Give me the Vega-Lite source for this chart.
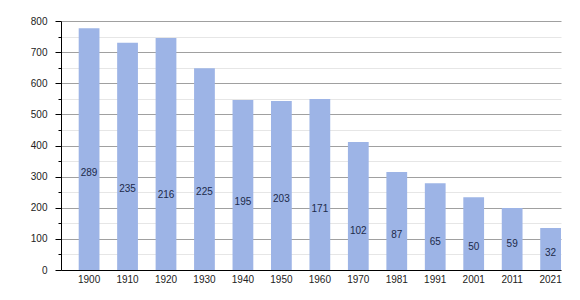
{
  "$schema": "https://vega.github.io/schema/vega-lite/v6.json",
  "width": 500,
  "height": 249,
  "autosize": "none",
  "padding": {"left": 61, "top": 21, "right": 19, "bottom": 30},
  "background": "white",
  "config": {"view": {"stroke": null}, "font": "Liberation Sans"},
  "data": {
    "values": [
      {"year": "1900", "population": 777, "label": 289},
      {"year": "1910", "population": 730, "label": 235},
      {"year": "1920", "population": 745, "label": 216},
      {"year": "1930", "population": 648, "label": 225},
      {"year": "1940", "population": 546, "label": 195},
      {"year": "1950", "population": 543, "label": 203},
      {"year": "1960", "population": 549, "label": 171},
      {"year": "1970", "population": 411, "label": 102},
      {"year": "1981", "population": 315, "label": 87},
      {"year": "1991", "population": 279, "label": 65},
      {"year": "2001", "population": 234, "label": 50},
      {"year": "2011", "population": 199, "label": 59},
      {"year": "2021", "population": 135, "label": 32}
    ]
  },
  "encoding": {
    "x": {
      "field": "year",
      "type": "ordinal",
      "sort": null,
      "scale": {"paddingInner": 0.46, "paddingOuter": 0.23, "align": 1},
      "axis": {
        "title": null,
        "labelAngle": 0,
        "ticks": false,
        "domainColor": "#000000",
        "labelColor": "#222222",
        "labelFontSize": 10,
        "labelPadding": 4
      }
    }
  },
  "layer": [
    {
      "mark": {"type": "bar", "color": "#9db4e6"},
      "encoding": {
        "y": {
          "field": "population",
          "type": "quantitative",
          "scale": {"domain": [0, 800], "nice": false},
          "axis": {
            "title": null,
            "values": [0, 50, 100, 150, 200, 250, 300, 350, 400, 450, 500, 550, 600, 650, 700, 750, 800],
            "labelOverlap": false,
            "labelExpr": "datum.value % 100 === 0 ? datum.label : ''",
            "gridColor": {"condition": {"test": "datum.value % 100 === 0", "value": "#a0a0a0"}, "value": "#e6e6e6"},
            "tickSize": {"condition": {"test": "datum.value % 100 === 0", "value": 6}, "value": 3},
            "tickColor": "#000000",
            "domainColor": "#000000",
            "labelColor": "#222222",
            "labelFontSize": 10,
            "labelPadding": 8
          }
        }
      }
    },
    {
      "mark": {"type": "text", "baseline": "alphabetic", "dy": -4.5, "color": "#1c2a4a", "fontSize": 10},
      "encoding": {
        "y": {
          "field": "label",
          "type": "quantitative",
          "axis": {
            "title": null,
            "values": [0, 50, 100, 150, 200, 250, 300, 350, 400, 450, 500, 550, 600, 650, 700, 750, 800],
            "labelOverlap": false,
            "labelExpr": "datum.value % 100 === 0 ? datum.label : ''",
            "gridColor": {"condition": {"test": "datum.value % 100 === 0", "value": "#a0a0a0"}, "value": "#e6e6e6"},
            "tickSize": {"condition": {"test": "datum.value % 100 === 0", "value": 6}, "value": 3},
            "tickColor": "#000000",
            "domainColor": "#000000",
            "labelColor": "#222222",
            "labelFontSize": 10,
            "labelPadding": 8
          }
        },
        "text": {"field": "label", "type": "quantitative"}
      }
    }
  ]
}
